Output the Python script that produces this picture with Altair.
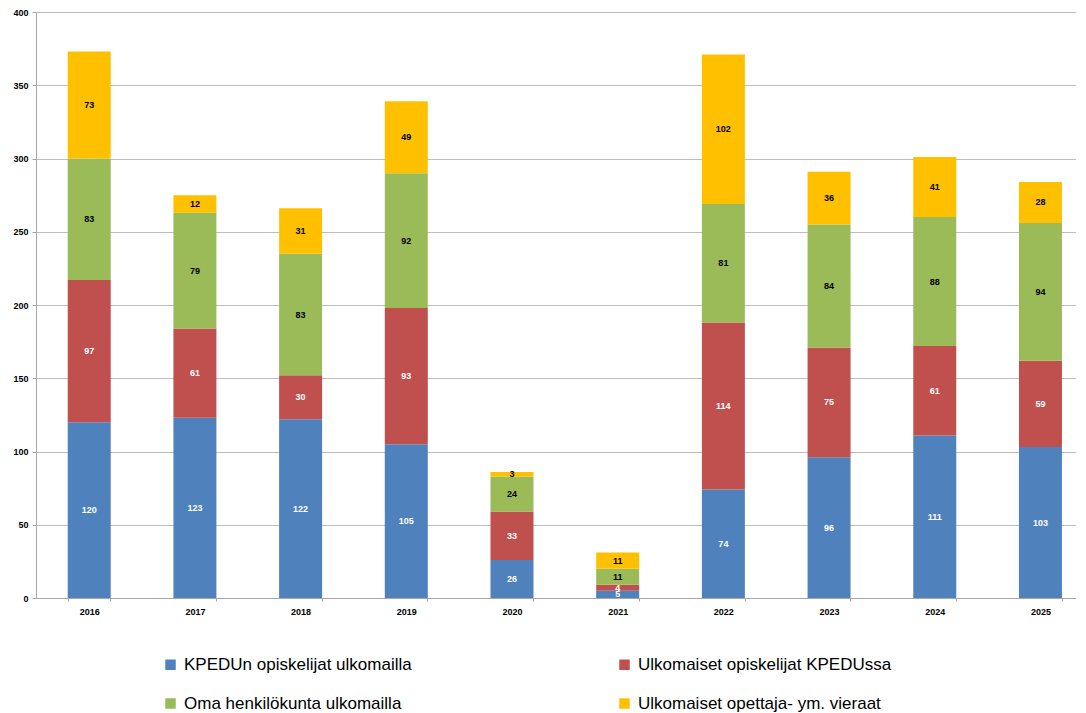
import altair as alt
import pandas as pd

years = ["2016", "2017", "2018", "2019", "2020", "2021", "2022", "2023", "2024", "2025"]
series = ["KPEDUn opiskelijat ulkomailla", "Ulkomaiset opiskelijat KPEDUssa",
          "Oma henkilökunta ulkomailla", "Ulkomaiset opettaja- ym. vieraat"]
kpedu_out = [120, 123, 122, 105, 26, 5, 74, 96, 111, 103]
foreign_students = [97, 61, 30, 93, 33, 4, 114, 75, 61, 59]
staff_out = [83, 79, 83, 92, 24, 11, 81, 84, 88, 94]
foreign_teachers = [73, 12, 31, 49, 3, 11, 102, 36, 41, 28]
colors = ["#4F81BD", "#C0504D", "#9BBB59", "#FFC000"]
text_colors = ["white", "white", "black", "black"]

rows = []
for i, y in enumerate(years):
    base = 0
    for k, vals in enumerate([kpedu_out, foreign_students, staff_out, foreign_teachers]):
        v = vals[i]
        rows.append({"year": y, "series": series[k], "order": k, "value": v,
                     "y0": base, "y1": base + v, "mid": base + v / 2,
                     "tcolor": text_colors[k]})
        base += v
df = pd.DataFrame(rows)

xscale = alt.Scale(paddingInner=0.6, paddingOuter=0.22, align=0.69)
x = alt.X("year:N", title=None, sort=years,
          axis=alt.Axis(labelAngle=0, labelFontSize=9, labelFontWeight="bold",
                        labelColor="#000", domainColor="#A6A6A6", tickColor="#A6A6A6",
                        ticks=True, tickBand="extent", tickSize=3, labelPadding=6,
                        labelFont="Liberation Sans"),
          scale=xscale)

bars = alt.Chart(df).mark_bar(size=43).encode(
    x=x,
    y=alt.Y("y0:Q", title=None, scale=alt.Scale(domain=[0, 400]),
            axis=alt.Axis(values=list(range(0, 401, 50)), labelFontSize=9, labelFontWeight="bold",
                          labelColor="#000", gridColor="#BDBDBD", domainColor="#A6A6A6",
                          tickColor="#A6A6A6", tickSize=4, labelPadding=4,
                          labelFont="Liberation Sans")),
    y2="y1:Q",
    color=alt.Color("series:N", sort=series,
                    scale=alt.Scale(domain=series, range=colors),
                    legend=alt.Legend(title=None, orient="none", legendX=126, legendY=644,
                                      direction="horizontal", columns=2, columnPadding=204,
                                      rowPadding=21, symbolType="square", symbolSize=110,
                                      labelFontSize=17, labelFont="Liberation Sans",
                                      labelColor="#000", symbolStrokeWidth=0, labelLimit=0,
                                      labelOffset=5, gridAlign="each")),
    order="order:Q",
)

labels = alt.Chart(df).mark_text(fontSize=9, fontWeight="bold", font="Liberation Sans").encode(
    x=alt.X("year:N", sort=years, scale=xscale),
    y="mid:Q",
    text="value:Q",
    color=alt.Color("tcolor:N", scale=None, legend=None),
)

chart = alt.layer(bars, labels).properties(
    width=1040, height=586, padding={"top": 0, "left": 4, "right": 0, "bottom": 0}
).configure_view(stroke=None).configure_axis(grid=True).configure_axisX(grid=False)

chart.save("out.html", embed_options={"renderer": "svg", "actions": False})
